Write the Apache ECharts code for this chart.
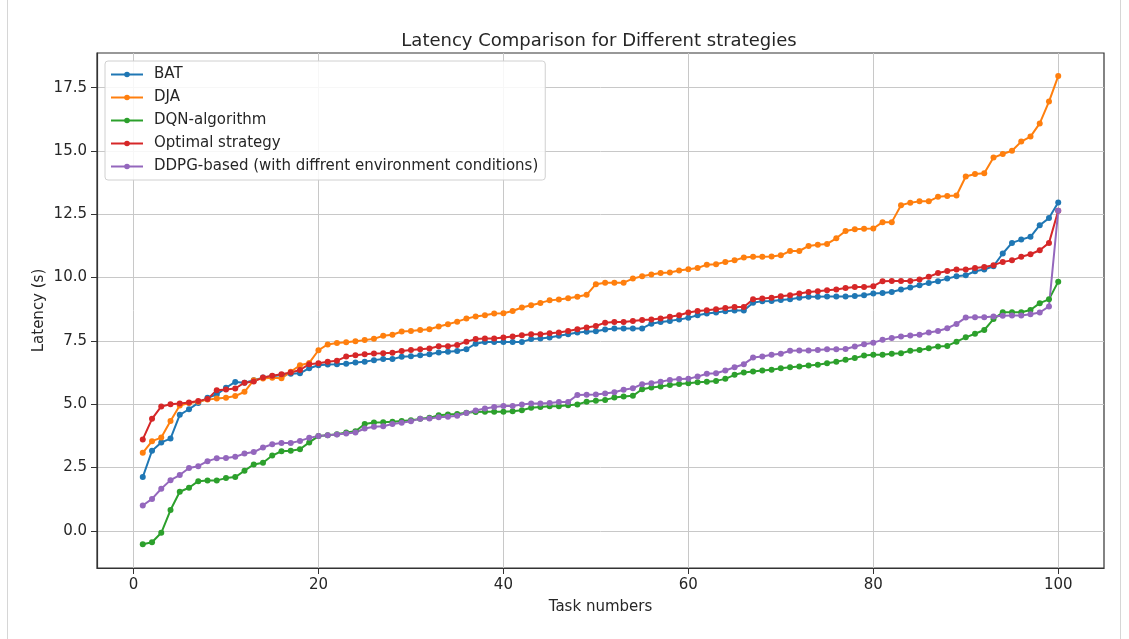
<!DOCTYPE html>
<html>
<head>
<meta charset="utf-8">
<script src="https://cdn.jsdelivr.net/npm/echarts@6/dist/echarts.min.js"></script>
<style>
  html, body { margin: 0; padding: 0; background: #ffffff; }
  #chart { width: 1129px; height: 639px; position: relative; }
  .frameL { position: absolute; left: 7px; top: 0; width: 1px; height: 639px; background: #d6d6d6; }
  .frameR { position: absolute; left: 1120px; top: 0; width: 1px; height: 639px; background: #d6d6d6; }
</style>
</head>
<body>
<div id="chart"></div>
<div class="frameL"></div>
<div class="frameR"></div>
<script>
// ---- data ----
const tasks = [];
for (let i = 1; i <= 100; i++) tasks.push(i);

const seriesNames = ['BAT', 'DJA', 'DQN-algorithm', 'Optimal strategy', 'DDPG-based (with diffrent environment conditions)'];

const bat = [2.12, 3.16, 3.49, 3.64, 4.58, 4.80, 5.05, 5.25, 5.38, 5.65,
  5.88, 5.85, 5.95, 6.05, 6.10, 6.15, 6.20, 6.22, 6.42, 6.54,
  6.57, 6.58, 6.60, 6.65, 6.68, 6.74, 6.78, 6.78, 6.87, 6.89,
  6.93, 6.97, 7.04, 7.07, 7.10, 7.17, 7.39, 7.46, 7.46, 7.46,
  7.46, 7.46, 7.57, 7.59, 7.63, 7.70, 7.76, 7.83, 7.86, 7.88,
  7.95, 7.99, 7.99, 7.99, 7.99, 8.18, 8.25, 8.29, 8.34, 8.41,
  8.51, 8.58, 8.62, 8.67, 8.70, 8.70, 9.01, 9.07, 9.08, 9.11,
  9.14, 9.20, 9.24, 9.24, 9.25, 9.25, 9.25, 9.27, 9.30, 9.37,
  9.39, 9.43, 9.53, 9.61, 9.70, 9.79, 9.86, 9.96, 10.05, 10.09,
  10.25, 10.32, 10.45, 10.95, 11.37, 11.50, 11.61, 12.07, 12.35, 12.97];

const dja = [3.08, 3.54, 3.68, 4.34, 4.95, 5.05, 5.10, 5.18, 5.22, 5.25,
  5.32, 5.49, 5.95, 6.01, 6.04, 6.02, 6.28, 6.54, 6.63, 7.13,
  7.36, 7.42, 7.45, 7.49, 7.53, 7.58, 7.70, 7.74, 7.87, 7.89,
  7.93, 7.96, 8.07, 8.16, 8.26, 8.38, 8.46, 8.51, 8.58, 8.59,
  8.68, 8.82, 8.91, 9.00, 9.10, 9.13, 9.18, 9.24, 9.32, 9.74,
  9.80, 9.80, 9.80, 9.96, 10.05, 10.12, 10.18, 10.20, 10.28, 10.33,
  10.38, 10.51, 10.53, 10.62, 10.68, 10.79, 10.82, 10.82, 10.83, 10.88,
  11.05, 11.05, 11.25, 11.30, 11.33, 11.55, 11.84, 11.91, 11.93, 11.94,
  12.19, 12.19, 12.86, 12.96, 13.01, 13.01, 13.19, 13.22, 13.24, 13.99,
  14.09, 14.12, 14.74, 14.88, 15.01, 15.37, 15.57, 16.09, 16.95, 17.96];

const dqn = [-0.53, -0.45, -0.08, 0.82, 1.54, 1.70, 1.96, 1.99, 1.99, 2.08,
  2.12, 2.37, 2.62, 2.69, 2.97, 3.14, 3.16, 3.22, 3.49, 3.74,
  3.77, 3.81, 3.88, 3.93, 4.22, 4.28, 4.29, 4.31, 4.34, 4.37,
  4.42, 4.46, 4.56, 4.59, 4.61, 4.66, 4.69, 4.70, 4.70, 4.70,
  4.72, 4.76, 4.86, 4.89, 4.92, 4.92, 4.96, 4.99, 5.10, 5.14,
  5.17, 5.26, 5.30, 5.33, 5.59, 5.66, 5.70, 5.76, 5.80, 5.83,
  5.87, 5.89, 5.92, 6.00, 6.16, 6.25, 6.29, 6.33, 6.36, 6.42,
  6.46, 6.49, 6.53, 6.56, 6.62, 6.68, 6.75, 6.82, 6.92, 6.95,
  6.95, 6.99, 7.01, 7.11, 7.14, 7.21, 7.28, 7.30, 7.47, 7.64,
  7.78, 7.93, 8.36, 8.63, 8.63, 8.63, 8.72, 8.99, 9.14, 9.84];

const optimal = [3.61, 4.42, 4.91, 5.00, 5.03, 5.07, 5.13, 5.20, 5.55, 5.58,
  5.62, 5.85, 5.90, 6.05, 6.12, 6.18, 6.25, 6.35, 6.58, 6.62,
  6.68, 6.72, 6.88, 6.93, 6.97, 7.00, 7.01, 7.03, 7.10, 7.14,
  7.17, 7.20, 7.29, 7.29, 7.34, 7.47, 7.57, 7.59, 7.59, 7.63,
  7.67, 7.72, 7.76, 7.76, 7.80, 7.83, 7.89, 7.96, 8.03, 8.09,
  8.22, 8.25, 8.25, 8.29, 8.32, 8.34, 8.38, 8.45, 8.51, 8.62,
  8.68, 8.71, 8.75, 8.80, 8.84, 8.84, 9.14, 9.17, 9.20, 9.26,
  9.30, 9.37, 9.43, 9.46, 9.50, 9.53, 9.59, 9.63, 9.63, 9.66,
  9.86, 9.87, 9.87, 9.87, 9.92, 10.03, 10.18, 10.26, 10.32, 10.32,
  10.38, 10.42, 10.49, 10.62, 10.68, 10.82, 10.92, 11.08, 11.37, 12.64];

const ddpg = [1.00, 1.26, 1.66, 2.00, 2.20, 2.48, 2.55, 2.75, 2.86, 2.87,
  2.92, 3.05, 3.11, 3.29, 3.42, 3.47, 3.47, 3.55, 3.67, 3.74,
  3.77, 3.80, 3.84, 3.88, 4.04, 4.11, 4.13, 4.22, 4.27, 4.33,
  4.42, 4.43, 4.48, 4.50, 4.54, 4.65, 4.75, 4.83, 4.89, 4.93,
  4.93, 4.99, 5.03, 5.03, 5.05, 5.09, 5.09, 5.36, 5.37, 5.38,
  5.42, 5.47, 5.57, 5.63, 5.79, 5.83, 5.89, 5.96, 5.99, 6.00,
  6.09, 6.20, 6.22, 6.33, 6.46, 6.58, 6.84, 6.88, 6.95, 6.99,
  7.11, 7.12, 7.12, 7.14, 7.17, 7.17, 7.18, 7.28, 7.37, 7.43,
  7.54, 7.61, 7.67, 7.71, 7.74, 7.83, 7.89, 8.00, 8.17, 8.42,
  8.43, 8.43, 8.46, 8.49, 8.50, 8.50, 8.55, 8.62, 8.86, 12.64];

const xTicks = [0, 20, 40, 60, 80, 100];
const yTicks = [0, 2.5, 5, 7.5, 10, 12.5, 15, 17.5];

// ---- chart ----
const colors = ['#1f77b4', '#ff7f0e', '#2ca02c', '#d62728', '#9467bd'];
const allValues = [bat, dja, dqn, optimal, ddpg];
const fontFamily = '"DejaVu Sans", sans-serif';
const textColor = '#262626';

const chart = echarts.init(document.getElementById('chart'), null, { renderer: 'canvas' });

const series = allValues.map((vals, k) => ({
  name: seriesNames[k],
  type: 'line',
  data: tasks.map((t, i) => [t, vals[i]]),
  symbol: 'circle',
  symbolSize: 6,
  showSymbol: true,
  showAllSymbol: true,
  lineStyle: { width: 2, color: colors[k] },
  itemStyle: { color: colors[k] },
  emphasis: { disabled: true },
  animation: false
}));

chart.setOption({
  animation: false,
  color: colors,
  title: {
    text: 'Latency Comparison for Different strategies',
    left: 594,
    top: 27,
    textAlign: 'center',
    textStyle: { fontFamily, fontSize: 18, fontWeight: 'normal', color: textColor }
  },
  legend: {
    orient: 'vertical',
    left: 105,
    top: 61,
    padding: [6, 7, 6, 5],
    itemGap: 8,
    itemWidth: 32,
    itemHeight: 7,
    backgroundColor: 'rgba(255,255,255,0.85)',
    borderColor: '#d0d0d0',
    borderWidth: 1,
    borderRadius: 3,
    textStyle: { fontFamily, fontSize: 15, lineHeight: 15, color: textColor, padding: [0, 0, 0, 6] },
    data: seriesNames
  },
  grid: {
    left: 97, right: 25, top: 53, bottom: 71,
    show: true, borderColor: '#333333', borderWidth: 1.2, backgroundColor: 'transparent'
  },
  xAxis: {
    type: 'value',
    min: -3.95,
    max: 104.95,
    name: 'Task numbers',
    nameLocation: 'middle',
    nameGap: 32,
    nameTextStyle: { fontFamily, fontSize: 15, color: textColor },
    axisLine: { show: true, onZero: false, lineStyle: { color: '#333333', width: 1.2 } },
    axisTick: { show: true, length: 6, lineStyle: { color: '#333333' }, customValues: xTicks },
    axisLabel: { customValues: xTicks, fontFamily, fontSize: 15, color: textColor, margin: 10 },
    splitLine: { show: true, lineStyle: { color: '#c8c8c8', width: 1 } }
  },
  yAxis: {
    type: 'value',
    min: -1.47,
    max: 18.87,
    name: 'Latency (s)',
    nameLocation: 'middle',
    nameGap: 50,
    nameMoveOverlap: false,
    nameTextStyle: { fontFamily, fontSize: 15, color: textColor },
    axisLine: { show: true, onZero: false, lineStyle: { color: '#333333', width: 1.2 } },
    axisTick: { show: true, length: 6, lineStyle: { color: '#333333' }, customValues: yTicks },
    axisLabel: {
      customValues: yTicks, fontFamily, fontSize: 15, color: textColor, margin: 10,
      formatter: v => Number(v).toFixed(1)
    },
    splitLine: { show: true, lineStyle: { color: '#c8c8c8', width: 1 } }
  },
  series
});
</script>
</body>
</html>
